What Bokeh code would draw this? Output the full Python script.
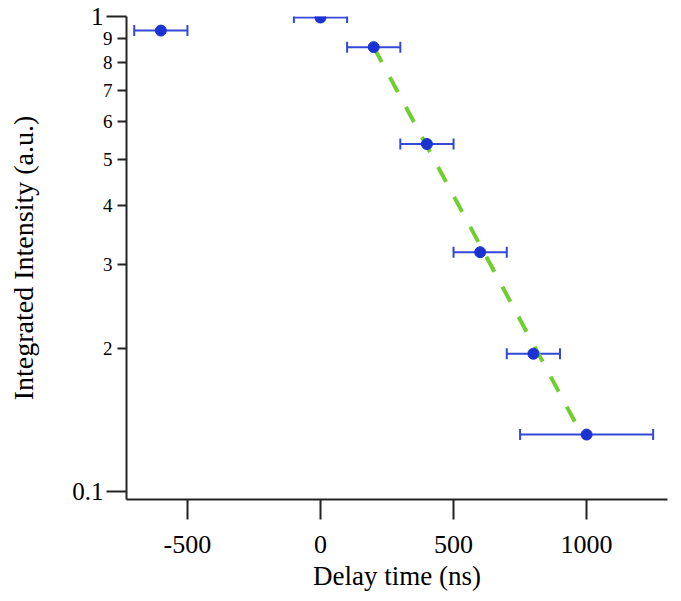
from bokeh.plotting import figure
from bokeh.models import (ColumnDataSource, FixedTicker, Whisker, TeeHead,
                          LogAxis, Range1d)
from bokeh.embed import file_html
from bokeh.resources import INLINE

# ---- data ----
delay = [-600, 0, 200, 400, 600, 800, 1000]
intensity = [0.934, 0.995, 0.862, 0.539, 0.319, 0.195, 0.1318]
x_err_lo = [100, 100, 100, 100, 100, 100, 250]
x_err_hi = [100, 100, 100, 100, 100, 100, 250]

fit_x = [200, 975]
fit_y = [0.862, 0.134]

x_ticks = [-500, 0, 500, 1000]
x_tick_labels = ["-500", "0", "500", "1000"]
y_major_ticks = [0.1, 1.0]
y_major_labels = ["0.1", "1"]
y_minor_ticks = [0.2, 0.3, 0.4, 0.5, 0.6, 0.7, 0.8, 0.9]
y_minor_labels = ["2", "3", "4", "5", "6", "7", "8", "9"]

FONT = "Liberation Serif"
BLUE = "#1b33d2"
BAR = "#3349d6"
GREEN = "#6fcf2f"
AXIS = "#222222"

x_range = Range1d(-729, 1304)
y_range = Range1d(0.0962, 1.0)

p = figure(width=681, height=601, x_range=x_range, y_range=y_range,
           y_axis_type="log", output_backend="svg", toolbar_location=None,
           min_border_left=126, min_border_right=14, min_border_top=16,
           min_border_bottom=102)
p.outline_line_color = None
p.xgrid.visible = False
p.ygrid.visible = False
p.background_fill_color = "white"

src = ColumnDataSource(dict(
    x=delay, y=intensity,
    xlo=[d - e for d, e in zip(delay, x_err_lo)],
    xhi=[d + e for d, e in zip(delay, x_err_hi)],
))

# fit line
p.line(fit_x, fit_y, line_color=GREEN, line_width=4, line_dash="17 17")

# error bars
wh = Whisker(source=src, base="y", lower="xlo", upper="xhi", dimension="width",
             line_color=BAR, line_width=2,
             upper_head=TeeHead(size=11, line_color=BAR, line_width=2),
             lower_head=TeeHead(size=11, line_color=BAR, line_width=2))
p.add_layout(wh)

p.scatter("x", "y", source=src, size=11, fill_color=BLUE, line_color=BLUE)

# x axis
xa = p.xaxis[0]
xa.ticker = FixedTicker(ticks=x_ticks, minor_ticks=[])
xa.major_label_overrides = {t: l for t, l in zip(x_ticks, x_tick_labels)}
xa.axis_label = "Delay time (ns)"
xa.axis_label_text_font = FONT
xa.axis_label_text_font_size = "27px"
xa.axis_label_text_font_style = "normal"
xa.axis_label_text_color = "black"
xa.axis_label_standoff = 5
xa.major_label_text_font = FONT
xa.major_label_text_font_size = "26px"
xa.major_label_text_color = "black"
xa.major_label_standoff = 16
xa.major_tick_out = 20
xa.major_tick_in = 0
xa.major_tick_line_width = 2
xa.major_tick_line_color = AXIS
xa.axis_line_width = 2
xa.axis_line_color = AXIS

# y axis: decades (long ticks, big labels) + minor ticks
ya = p.yaxis[0]
ya.ticker = FixedTicker(ticks=y_major_ticks, minor_ticks=y_minor_ticks)
ya.major_label_overrides = {t: l for t, l in zip(y_major_ticks, y_major_labels)}
ya.major_label_text_font = FONT
ya.major_label_text_font_size = "25px"
ya.major_label_text_color = "black"
ya.major_label_standoff = 3
ya.major_tick_out = 20
ya.major_tick_in = 0
ya.minor_tick_out = 9
ya.minor_tick_in = 0
ya.major_tick_line_width = 2
ya.minor_tick_line_width = 2
ya.major_tick_line_color = AXIS
ya.minor_tick_line_color = AXIS
ya.axis_line_width = 2
ya.axis_line_color = AXIS

# second (outer) y axis: small labels for the in-decade ticks + the title
ya2 = LogAxis(ticker=FixedTicker(ticks=y_minor_ticks, minor_ticks=[]),
              major_label_overrides={t: l for t, l in zip(y_minor_ticks, y_minor_labels)},
              major_label_text_font=FONT, major_label_text_font_size="19px",
              major_label_text_color="black", major_label_standoff=-43,
              major_tick_out=0, major_tick_in=0, major_tick_line_color=None,
              minor_tick_line_color=None, axis_line_color=None,
              axis_label="Integrated Intensity (a.u.)",
              axis_label_text_font=FONT, axis_label_text_font_size="28px",
              axis_label_text_font_style="normal", axis_label_text_color="black",
              axis_label_standoff=61)
p.add_layout(ya2, "left")

open("out.html", "w").write(file_html(p, INLINE))
